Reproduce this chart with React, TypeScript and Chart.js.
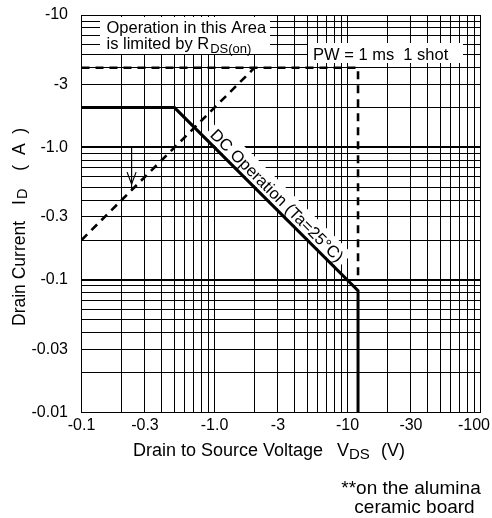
import React, { useEffect, useRef } from "react";
import { Chart, registerables } from "chart.js";

Chart.register(...registerables);

// grid values (log grid 1..9 per decade)
const X_GRID = [0.1, 0.2, 0.3, 0.4, 0.5, 0.6, 0.7, 0.8, 0.9, 1, 2, 3, 4, 5, 6, 7, 8, 9, 10, 20, 30, 40, 50, 60, 70, 80, 90, 100];
const Y_GRID = [0.01, 0.02, 0.03, 0.04, 0.05, 0.06, 0.07, 0.08, 0.09, 0.1, 0.2, 0.3, 0.4, 0.5, 0.6, 0.7, 0.8, 0.9, 1, 2, 3, 4, 5, 6, 7, 8, 9, 10];
const X_TICKS = [0.1, 0.3, 1, 3, 10, 30, 100];
const X_TICK_LABELS = ["-0.1", "-0.3", "-1.0", "-3", "-10", "-30", "-100"];
const Y_TICKS = [0.01, 0.03, 0.1, 0.3, 1, 3, 10];
const Y_TICK_LABELS = ["-0.01", "-0.03", "-0.1", "-0.3", "-1.0", "-3", "-10"];
const Y_HEAVY = [0.1, 1];

// DC operation (Ta=25°C) boundary: |VDS| (V), |ID| (A)
const DC_V = [0.1, 0.5, 12, 12];
const DC_I = [2, 2, 0.083, 0.01];
// PW = 1 ms 1 shot boundary
const PULSE_V = [0.1, 12, 12];
const PULSE_I = [4, 4, 0.1];
// RDS(on) limit
const RDS_V = [0.1, 2];
const RDS_I = [0.2, 4];
// leader arrow to RDS(on) line
const ARROW_V = [0.238, 0.238];
const ARROW_I = [1.0, 0.476];

const DC_LABEL = "DC Operation (Ta=25°C)";
const FONT = '"Liberation Sans", Arial, Helvetica, sans-serif';

const near = (a: number, b: number) => Math.abs(a - b) <= Math.abs(b) * 1e-6;
const pts = (xs: number[], ys: number[]) => xs.map((v, i) => ({ x: v, y: ys[i] }));

const annotPlugin = {
  id: "annot",
  beforeDatasetsDraw(chart: any) {
    const { ctx, scales } = chart;
    const x = scales.x;
    const y = scales.y;
    ctx.save();
    // white label boxes over the grid
    ctx.fillStyle = "#fff";
    ctx.fillRect(100, 17, 170, 37);
    ctx.fillRect(308, 43, 155, 20);

    ctx.fillStyle = "#000";
    ctx.textAlign = "left";
    ctx.textBaseline = "alphabetic";
    ctx.font = `16.5px ${FONT}`;
    ctx.fillText("Operation in this Area", 106.5, 32.5);
    ctx.fillText("is limited by R", 106.5, 49);
    const w1 = ctx.measureText("is limited by R").width;
    ctx.font = `13px ${FONT}`;
    ctx.fillText("DS(on)", 106.5 + w1 + 1, 52.5);
    ctx.font = `16.5px ${FONT}`;
    ctx.fillText("PW = 1 ms  1 shot", 313, 59.5);

    // DC operation label along the DC line
    const ax = x.getPixelForValue(DC_V[1]);
    const ay = y.getPixelForValue(DC_I[1]);
    const bx = x.getPixelForValue(DC_V[2]);
    const by = y.getPixelForValue(DC_I[2]);
    const ang = Math.atan2(by - ay, bx - ax);
    const f = 0.52;
    ctx.save();
    ctx.translate(ax + (bx - ax) * f, ay + (by - ay) * f);
    ctx.rotate(ang);
    const tw = ctx.measureText(DC_LABEL).width;
    ctx.fillStyle = "#fff";
    ctx.fillRect(-tw / 2 - 4, -22, tw + 8, 20.5);
    ctx.fillStyle = "#000";
    ctx.textAlign = "center";
    ctx.fillText(DC_LABEL, 0, -4.5);
    ctx.restore();

    // arrow head
    const tx = x.getPixelForValue(ARROW_V[1]);
    const ty = y.getPixelForValue(ARROW_I[1]) - 6;
    ctx.strokeStyle = "#000";
    ctx.lineWidth = 1.2;
    ctx.beginPath();
    ctx.moveTo(tx - 4.5, ty - 12);
    ctx.lineTo(tx, ty);
    ctx.lineTo(tx + 4.5, ty - 12);
    ctx.stroke();
    ctx.restore();
  },
  afterDraw(chart: any) {
    const { ctx, scales, chartArea } = chart;
    const x = scales.x;
    ctx.save();
    ctx.fillStyle = "#000";
    ctx.font = `16px ${FONT}`;
    ctx.textBaseline = "middle";
    ctx.textAlign = "center";
    // x tick labels
    X_TICKS.forEach((v, i) => {
      const t = X_TICK_LABELS[i];
      const w = ctx.measureText(t).width;
      let cx = x.getPixelForValue(v);
      if (cx + w / 2 > 490) cx = 490 - w / 2;
      ctx.fillText(t, cx, chartArea.bottom + 13);
    });

    // x axis title
    ctx.textBaseline = "alphabetic";
    ctx.textAlign = "right";
    ctx.font = `18px ${FONT}`;
    ctx.fillText("Drain to Source Voltage", 323, 456);
    ctx.textAlign = "left";
    ctx.fillText("V", 337, 456);
    ctx.font = `15px ${FONT}`;
    ctx.fillText("DS", 349, 458.5);
    ctx.font = `18px ${FONT}`;
    ctx.fillText("(V)", 381, 456);

    // y axis title (rotated)
    ctx.save();
    ctx.translate(24.5, 0);
    ctx.rotate(-Math.PI / 2);
    let u = -326;
    ctx.font = `17.5px ${FONT}`;
    ctx.fillText("Drain Current", u, 0);
    u += ctx.measureText("Drain Current").width + 16;
    ctx.fillText("I", u, 0);
    u += ctx.measureText("I").width + 1;
    ctx.font = `14.5px ${FONT}`;
    ctx.fillText("D", u, 2.5);
    u += ctx.measureText("D").width + 18;
    ctx.font = `17.5px ${FONT}`;
    ctx.fillText("(  A  )", u, 0);
    ctx.restore();

    // footnote
    ctx.textAlign = "center";
    ctx.font = `19px ${FONT}`;
    ctx.fillText("**on the alumina", 411, 494);
    ctx.fillText("ceramic board", 414.5, 513);
    ctx.restore();
  },
};

export default function App() {
  const ref = useRef<HTMLCanvasElement>(null);
  useEffect(() => {
    document.body.style.margin = "0";
    const chart = new Chart(ref.current as HTMLCanvasElement, {
      type: "scatter",
      data: {
        datasets: [
          {
            data: pts(DC_V, DC_I),
            showLine: true,
            borderColor: "#000",
            borderWidth: 3,
            pointRadius: 0,
            borderJoinStyle: "miter",
          },
          {
            data: pts(PULSE_V, PULSE_I),
            showLine: true,
            borderColor: "#000",
            borderWidth: 2.6,
            borderDash: [8, 6],
            pointRadius: 0,
          },
          {
            data: pts(RDS_V, RDS_I),
            showLine: true,
            borderColor: "#000",
            borderWidth: 2.6,
            borderDash: [8, 6],
            pointRadius: 0,
          },
          {
            data: pts(ARROW_V, ARROW_I),
            showLine: true,
            borderColor: "#000",
            borderWidth: 1.2,
            pointRadius: 0,
          },
        ],
      },
      options: {
        responsive: false,
        animation: false,
        devicePixelRatio: 1,
        layout: { padding: { top: 15, right: 11.5, left: 0, bottom: 0 } },
        plugins: {
          legend: { display: false },
          tooltip: { enabled: false },
          title: { display: false },
        },
        scales: {
          x: {
            type: "logarithmic",
            min: 0.1,
            max: 100,
            afterBuildTicks: (s: any) => {
              s.ticks = X_GRID.map((v) => ({ value: v }));
            },
            afterFit: (s: any) => {
              s.height = 105.7;
              s.paddingLeft = 0;
              s.paddingRight = 0;
            },
            ticks: { display: false, autoSkip: false, maxRotation: 0, minRotation: 0 },
            grid: { color: "#000", lineWidth: 1, drawTicks: false },
            border: { color: "#000", width: 1 },
          },
          y: {
            type: "logarithmic",
            min: 0.01,
            max: 10,
            afterBuildTicks: (s: any) => {
              s.ticks = Y_GRID.map((v) => ({ value: v }));
            },
            afterFit: (s: any) => {
              s.width = 81.5;
              s.paddingTop = 0;
              s.paddingBottom = 0;
            },
            ticks: {
              autoSkip: false,
              padding: 13.5,
              color: "#000",
              font: { family: FONT, size: 16 },
              callback: (v: any) => {
                const i = Y_TICKS.findIndex((t) => near(Number(v), t));
                return i >= 0 ? Y_TICK_LABELS[i] : "";
              },
            },
            grid: {
              color: "#000",
              drawTicks: false,
              lineWidth: (c: any) =>
                c.tick && Y_HEAVY.some((b) => near(c.tick.value, b)) ? 2 : 1,
            },
            border: { color: "#000", width: 1 },
          },
        },
      },
      plugins: [annotPlugin],
    } as any);
    return () => chart.destroy();
  }, []);
  return (
    <canvas
      ref={ref}
      width={492}
      height={518}
      style={{ display: "block", width: 492, height: 518 }}
    />
  );
}
